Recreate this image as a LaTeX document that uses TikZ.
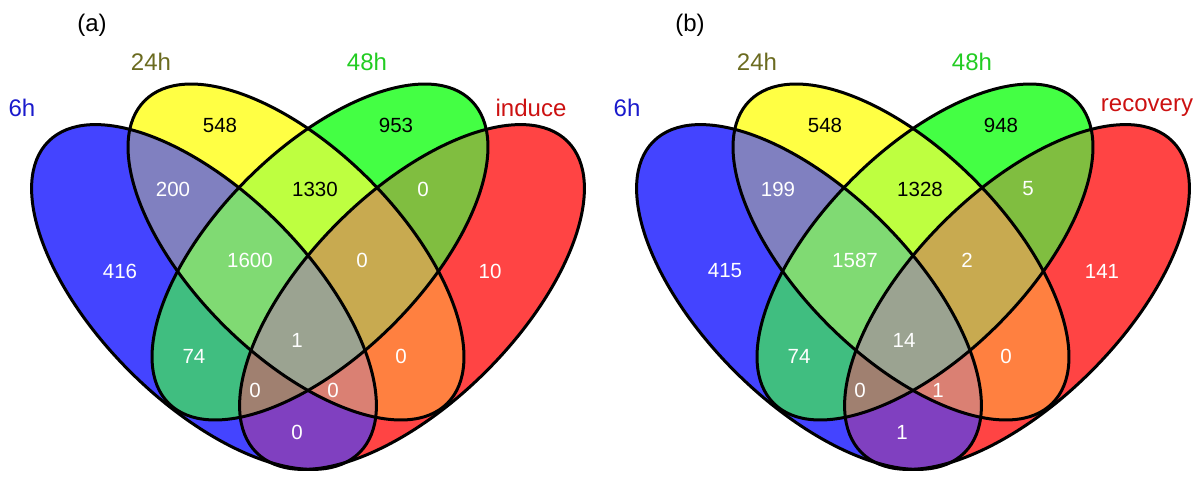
\documentclass[tikz,border=0pt]{standalone}
\usepackage{fontspec}
\setmainfont{Liberation Sans}
\usepackage{tikz}

\definecolor{s6}{RGB}{68,68,255}
\definecolor{s24}{RGB}{255,255,68}
\definecolor{s48}{RGB}{68,255,68}
\definecolor{sI}{RGB}{255,68,68}
\definecolor{sAB}{RGB}{128,128,192}
\definecolor{sAC}{RGB}{64,190,128}
\definecolor{sAD}{RGB}{128,64,192}
\definecolor{sBC}{RGB}{190,255,64}
\definecolor{sBD}{RGB}{255,128,64}
\definecolor{sCD}{RGB}{128,190,64}
\definecolor{sABC}{RGB}{128,218,115}
\definecolor{sABD}{RGB}{218,128,115}
\definecolor{sACD}{RGB}{160,128,112}
\definecolor{sBCD}{RGB}{200,170,80}
\definecolor{sABCD}{RGB}{155,163,145}
\definecolor{t6}{RGB}{26,26,204}
\definecolor{t24}{RGB}{107,107,32}
\definecolor{t48}{RGB}{34,204,34}
\definecolor{tI}{RGB}{204,17,17}

\newcommand{\ring}[6]{\path[#6,rotate around={#3:(#1,#2)}] (#1,#2) ellipse [x radius=#4,y radius=#5];}
\newcommand{\ringA}[1]{\ring{204}{297}{135}{220}{105}{#1}}
\newcommand{\ringB}[1]{\ring{296}{252}{135}{214}{103}{#1}}
\newcommand{\ringC}[1]{\ring{320}{252}{45}{214}{103}{#1}}
\newcommand{\ringD}[1]{\ring{412}{297}{45}{220}{105}{#1}}
\newcommand{\patch}[2]{\begin{scope}#1\fill[#2] (0,0) rectangle (620,477);\end{scope}}
\newcommand{\vennpanel}{%
  \ringA{fill=s6}\ringB{fill=s24}\ringC{fill=s48}\ringD{fill=sI}%
  \patch{\ringA{clip}\ringB{clip}}{sAB}%
  \patch{\ringA{clip}\ringC{clip}}{sAC}%
  \patch{\ringA{clip}\ringD{clip}}{sAD}%
  \patch{\ringB{clip}\ringC{clip}}{sBC}%
  \patch{\ringB{clip}\ringD{clip}}{sBD}%
  \patch{\ringC{clip}\ringD{clip}}{sCD}%
  \patch{\ringA{clip}\ringB{clip}\ringC{clip}}{sABC}%
  \patch{\ringA{clip}\ringB{clip}\ringD{clip}}{sABD}%
  \patch{\ringA{clip}\ringC{clip}\ringD{clip}}{sACD}%
  \patch{\ringB{clip}\ringC{clip}\ringD{clip}}{sBCD}%
  \patch{\ringA{clip}\ringB{clip}\ringC{clip}\ringD{clip}}{sABCD}%
  \foreach \r in {A,B,C,D}{\csname ring\r\endcsname{draw,line width=3pt}}%
}

\begin{document}
\begin{tikzpicture}[x=1pt,y=-1pt,
  num/.style={font=\fontsize{20.5}{24}\selectfont,inner sep=0pt},
  lab/.style={font=\fontsize{24}{28}\selectfont,inner sep=0pt}]
  \useasboundingbox (0,0) rectangle (1200,477);
  \vennpanel
  \begin{scope}[xshift=605pt]
    \vennpanel
  \end{scope}

  \node[lab] (pa) at (92,25) {(a)};
  \node[lab,text=t6] (a6h) at (22,108) {6h};
  \node[lab,text=t24] (a24h) at (151,62) {24h};
  \node[lab,text=t48] (a48h) at (367,62) {48h};
  \node[lab,text=tI] (aind) at (531,108) {induce};
  \foreach \px/\py/\val/\c [count=\k] in {220/125/548/black,396/125/953/black,
      173/189/200/white,315/189/1330/black,423/189/0/white,
      120/271/416/white,250/260/1600/white,362/260/0/white,490/271/10/white,
      194/356/74/white,297/340/1/white,401/356/0/white,
      255/390/0/white,333/390/0/white,297/432/0/white}
    \node[num,text=\c] (a\k) at (\px,\py) {\val};

  \node[lab] (pb) at (690,25) {(b)};
  \node[lab,text=t6] (b6h) at (627,108) {6h};
  \node[lab,text=t24] (b24h) at (757,62) {24h};
  \node[lab,text=t48] (b48h) at (972,62) {48h};
  \node[lab,text=tI] (brec) at (1147,108) {recovery};
  \foreach \px/\py/\val/\c [count=\k] in {825/125/548/black,1001/125/948/black,
      778/189/199/white,920/189/1328/black,1028/189/5/white,
      725/271/415/white,855/260/1587/white,967/260/2/white,1102/271/141/white,
      799/356/74/white,904/340/14/white,1006/356/0/white,
      860/390/0/white,938/390/1/white,902/432/1/white}
    \node[num,text=\c] (b\k) at (\px,\py) {\val};
\end{tikzpicture}
\end{document}
